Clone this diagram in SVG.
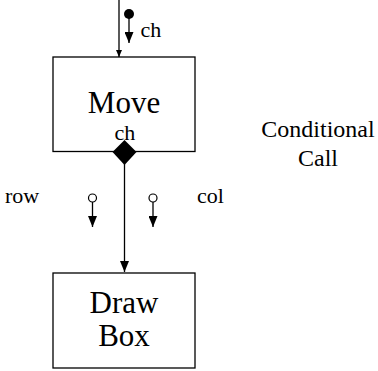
<svg xmlns="http://www.w3.org/2000/svg" width="378" height="371" viewBox="0 0 378 371">
<defs>
<style>
.box{fill:#fff;stroke:#000;stroke-width:1.3}
text{font-family:"Liberation Serif","Times New Roman",serif;fill:#000}
.big{font-size:31px;text-anchor:middle}
.sm{font-size:22px}
.note{font-size:24px;text-anchor:middle}
.ln{stroke:#000;stroke-width:1.3;fill:none}
</style>
<marker id="ah" viewBox="0 0 11 9" refX="11" refY="4.5" markerWidth="11" markerHeight="9" markerUnits="userSpaceOnUse" orient="auto">
<path d="M0,0 L11,4.5 L0,9 z" fill="#000"/>
</marker>
<marker id="ahs" viewBox="0 0 7 6" refX="7" refY="3" markerWidth="7" markerHeight="6" markerUnits="userSpaceOnUse" orient="auto">
<path d="M0,0 L7,3 L0,6 z" fill="#000"/>
</marker>
</defs>
<rect width="378" height="371" fill="#fff"/>
<g id="connectors">
<line class="ln" x1="119" y1="0" x2="119" y2="57" marker-end="url(#ahs)"/>
<line class="ln" x1="124.5" y1="164" x2="124.5" y2="272" marker-end="url(#ah)"/>
<circle cx="129" cy="14" r="5" fill="#000"/>
<line class="ln" x1="129" y1="18" x2="129" y2="43" marker-end="url(#ah)"/>
<text class="sm" x="140.5" y="37">ch</text>
<circle cx="92.5" cy="198" r="4" fill="#fff" stroke="#000" stroke-width="1.2"/>
<line class="ln" x1="92.5" y1="202" x2="92.5" y2="227" marker-end="url(#ah)"/>
<circle cx="153" cy="198" r="4" fill="#fff" stroke="#000" stroke-width="1.2"/>
<line class="ln" x1="153" y1="202" x2="153" y2="227" marker-end="url(#ah)"/>
<text class="sm" x="5" y="203">row</text>
<text class="sm" x="197" y="203">col</text>
</g>
<g id="move">
<rect class="box" x="53" y="57" width="142" height="94.5"/>
<text class="big" x="124" y="113">Move</text>
<text class="sm" x="125" y="140" text-anchor="middle">ch</text>
<path d="M124.5,140 L136.5,152 L124.5,165 L112.5,152 z" fill="#000"/>
</g>
<g id="drawbox">
<rect class="box" x="53" y="273" width="142" height="95"/>
<text class="big" x="124" y="313">Draw</text>
<text class="big" x="124" y="346">Box</text>
</g>
<g id="note">
<text class="note" x="318" y="137">Conditional</text>
<text class="note" x="318" y="166">Call</text>
</g>
</svg>
